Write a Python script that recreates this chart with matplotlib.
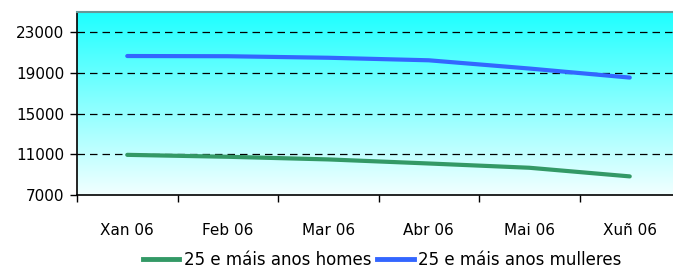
import numpy as np
import matplotlib
matplotlib.use("Agg")
import matplotlib.pyplot as plt
from matplotlib.lines import Line2D

categories = ["Xan 06", "Feb 06", "Mar 06", "Abr 06", "Mai 06", "Xuñ 06"]
homes = [10950, 10760, 10500, 10100, 9680, 8830]
mulleres = [20670, 20650, 20500, 20250, 19440, 18550]
yticks = [7000, 11000, 15000, 19000, 23000]
series_names = ["25 e máis anos homes", "25 e máis anos mulleres"]

W, H = 673, 271
fig = plt.figure(figsize=(W/100, H/100), dpi=100)
left, right, top, bottom = 77, 680, 12, 195
ax = fig.add_axes([left/W, 1-bottom/H, (right-left)/W, (bottom-top)/H])

x = np.arange(len(categories))
n = len(categories)

# gradient background: cyan at top fading to near white at bottom
grad = np.linspace(0, 1, 256).reshape(-1, 1)
top_c = np.array([0x1E, 0xFF, 0xFF]) / 255
bot_c = np.array([0xF2, 0xFF, 0xFF]) / 255
img = top_c[None, None, :] * (1-grad[:, :, None]) + bot_c[None, None, :] * grad[:, :, None]
ax.imshow(img, aspect="auto", origin="upper", extent=[-0.5, n-0.5, 7000, 25000], zorder=0)
ax.set_xlim(-0.5, n-0.5)
ax.set_ylim(7000, 25000)

for yv in yticks[1:]:
    ax.axhline(yv, color="black", lw=0.9, ls=(0, (6, 4)), zorder=1)

ax.plot(x, homes, color="#339966", lw=3, solid_capstyle="round", zorder=3)
ax.plot(x, mulleres, color="#3366FF", lw=3, solid_capstyle="round", zorder=3)

ax.set_yticks(yticks)
ax.set_yticklabels([str(v) for v in yticks])
ax.set_xticks(np.arange(n+1) - 0.5)
ax.set_xticklabels([])
ax.set_xticks(x, minor=True)
ax.set_xticklabels(categories, minor=True)
ax.tick_params(axis="x", which="minor", length=0, pad=20, labelsize=11)
ax.tick_params(axis="x", which="major", length=5, direction="out", width=1)
ax.tick_params(axis="y", length=5, direction="out", labelsize=11, pad=4, width=1)

for s in ["left", "bottom"]:
    ax.spines[s].set_color("black")
    ax.spines[s].set_linewidth(1.2)
ax.spines["top"].set_color("#669999")
ax.spines["top"].set_linewidth(1.5)
ax.spines["right"].set_visible(False)

handles = [Line2D([0], [0], color="#339966", lw=3.5),
           Line2D([0], [0], color="#3366FF", lw=3.5)]
fig.legend(handles, series_names, loc="center", bbox_to_anchor=(382/W, 1-260/H),
           ncol=2, frameon=False, fontsize=12, handlelength=2.2,
           handletextpad=0.25, columnspacing=0.35, borderpad=0.1)

fig.savefig("out.png", dpi=100)
